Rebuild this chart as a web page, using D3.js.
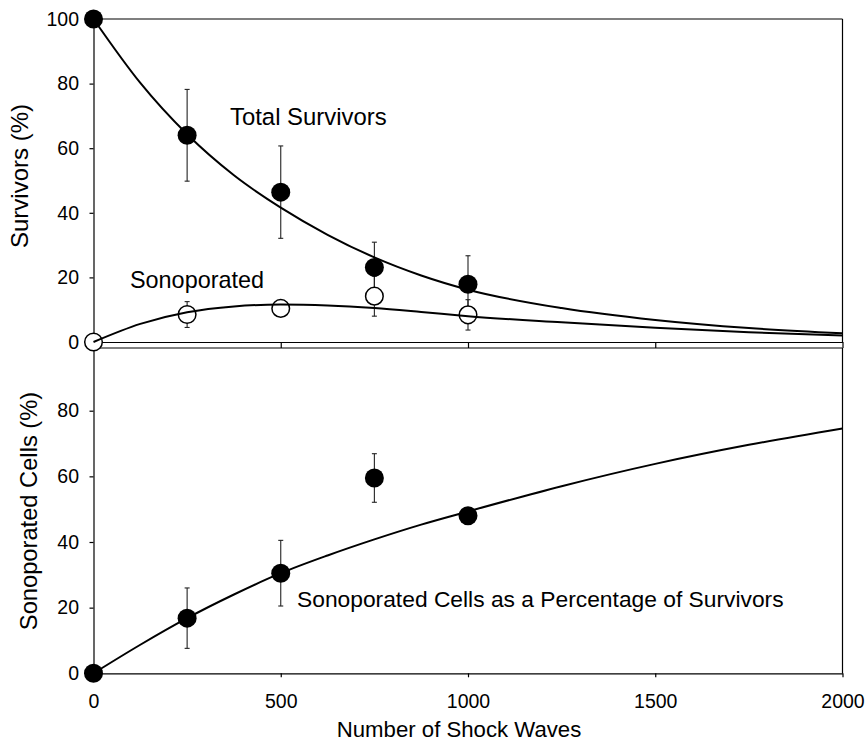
<!DOCTYPE html>
<html>
<head>
<meta charset="utf-8">
<script src="https://cdn.jsdelivr.net/npm/d3@7"></script>
<style>
  body { margin: 0; background: #fff; }
  svg { display: block; font-family: "Liberation Sans", Arial, sans-serif; }
  .axis path, .axis line { stroke: #000; stroke-width: 1.2; }
  .axis text { font-size: 19.5px; fill: #000; font-family: "Liberation Sans", Arial, sans-serif; }
</style>
</head>
<body>
<script>
'use strict';

// measured points
var shockWaves = [0, 250, 500, 750, 1000];
var totalMean = [100, 64.0, 46.4, 23.1, 17.9];
var totalErr = [0, 14.2, 14.3, 7.8, 8.8];
var sonoMean = [0, 8.5, 10.4, 14.2, 8.4];
var sonoErr = [0, 4.0, 0, 6.2, 4.7];
var pctMean = [0, 16.8, 30.5, 59.5, 48.0];
var pctErr = [0, 9.2, 10.0, 7.4, 2.2];

// fitted curves
var fitX = [0, 125, 250, 375, 500, 625, 750, 875, 1000, 1250, 1500, 1750, 2000];
var totalFit = [100, 80.2, 64.3, 51.6, 41.6, 33.2, 26.2, 20.6, 16.2, 10.5, 6.8, 4.3, 2.7];
var sonoFit = [0, 5.6, 9.2, 11.0, 11.6, 11.3, 10.5, 9.3, 8.0, 6.1, 4.4, 3.0, 2.0];
var pctFit = [0, 8.7, 16.8, 24.0, 30.5, 35.9, 40.8, 45.3, 49.3, 57.0, 63.8, 69.6, 74.6];

var xTicks = [0, 500, 1000, 1500, 2000];
var topTicks = [0, 20, 40, 60, 80, 100];
var bottomTicks = [0, 20, 40, 60, 80];

var width = 866, height = 750;
var left = 93.5, right = 842.5;
var topY0 = 342, topY1 = 19;
var botY0 = 673.3, botY1 = 348;

var svg = d3.select('body').append('svg')
  .attr('width', width)
  .attr('height', height);

var x = d3.scaleLinear().domain([0, 2000]).range([left, right]);
var yTop = d3.scaleLinear().domain([0, 100]).range([topY0, topY1]);
var yBot = d3.scaleLinear().domain([0, 99.1]).range([botY0, botY1]);

// frames
function frame(y0, y1) {
  svg.append('line').attr('x1', left).attr('x2', right).attr('y1', y1).attr('y2', y1)
    .attr('stroke', '#000').attr('stroke-width', 1.2);
  svg.append('line').attr('x1', right).attr('x2', right).attr('y1', y1).attr('y2', y0)
    .attr('stroke', '#000').attr('stroke-width', 1.2);
}
frame(topY0, topY1);
frame(botY0, botY1);

// top panel axes
svg.append('g').attr('class', 'axis')
  .attr('transform', 'translate(' + left + ',0)')
  .call(d3.axisLeft(yTop).tickValues(topTicks).tickSize(4).tickSizeOuter(0).tickPadding(10.5));

svg.append('g').attr('class', 'axis')
  .attr('transform', 'translate(0,' + topY0 + ')')
  .call(d3.axisBottom(x).tickValues(xTicks).tickSize(6).tickSizeOuter(0).tickFormat(''));

// bottom panel axes
svg.append('g').attr('class', 'axis')
  .attr('transform', 'translate(' + left + ',0)')
  .call(d3.axisLeft(yBot).tickValues(bottomTicks).tickSize(4).tickSizeOuter(0).tickPadding(10.5));

svg.append('g').attr('class', 'axis')
  .attr('transform', 'translate(0,' + botY0 + ')')
  .call(d3.axisBottom(x).tickValues(xTicks).tickSize(4).tickSizeOuter(0).tickPadding(17)
    .tickFormat(d3.format('d')));

// error bars
function errorBars(means, errs, y) {
  var g = svg.append('g').attr('stroke', '#222').attr('stroke-width', 1.1);
  shockWaves.forEach(function(sw, i) {
    if (!errs[i]) return;
    var cx = x(sw), hi = y(means[i] + errs[i]), lo = y(means[i] - errs[i]);
    g.append('line').attr('x1', cx).attr('x2', cx).attr('y1', hi).attr('y2', lo);
    g.append('line').attr('x1', cx - 2.5).attr('x2', cx + 2.5).attr('y1', hi).attr('y2', hi);
    g.append('line').attr('x1', cx - 2.5).attr('x2', cx + 2.5).attr('y1', lo).attr('y2', lo);
  });
}
errorBars(totalMean, totalErr, yTop);
errorBars(sonoMean, sonoErr, yTop);
errorBars(pctMean, pctErr, yBot);

// symbols
function dots(means, y, filled) {
  svg.append('g').selectAll('circle')
    .data(shockWaves)
    .enter().append('circle')
    .attr('cx', function(d) { return x(d); })
    .attr('cy', function(d, i) { return y(means[i]); })
    .attr('r', filled ? 9.5 : 8.8)
    .attr('fill', filled ? '#000' : '#fff')
    .attr('stroke', '#000')
    .attr('stroke-width', filled ? 0 : 1.5);
}
dots(sonoMean, yTop, false);
dots(totalMean, yTop, true);
dots(pctMean, yBot, true);

// fitted curves
function fit(values, y) {
  var line = d3.line()
    .x(function(d) { return x(d); })
    .y(function(d, i) { return y(values[i]); })
    .curve(d3.curveMonotoneX);
  svg.append('path').datum(fitX)
    .attr('d', line)
    .attr('fill', 'none')
    .attr('stroke', '#000')
    .attr('stroke-width', 2);
}
fit(totalFit, yTop);
fit(sonoFit, yTop);
fit(pctFit, yBot);

// labels
function label(txt, px, py, size, rotate) {
  var t = svg.append('text')
    .attr('font-size', size + 'px')
    .attr('fill', '#000')
    .text(txt);
  if (rotate) {
    t.attr('text-anchor', 'middle')
      .attr('transform', 'translate(' + px + ',' + py + ') rotate(-90)');
  } else {
    t.attr('x', px).attr('y', py);
  }
  return t;
}
label('Total Survivors', 230, 125, 23.9);
label('Sonoporated', 130, 288, 23.4);
label('Sonoporated Cells as a Percentage of Survivors', 297, 607, 22.8);
label('Number of Shock Waves', 459, 737, 22.2).attr('text-anchor', 'middle');
label('Survivors (%)', 28, 176, 24, true);
label('Sonoporated Cells (%)', 37, 511, 23.7, true);
</script>
</body>
</html>
